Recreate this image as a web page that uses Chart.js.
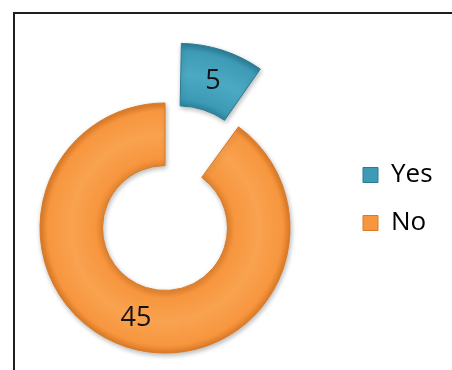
<!DOCTYPE html>
<html>
<head>
<meta charset="utf-8">
<script src="https://cdn.jsdelivr.net/npm/chart.js@4.4.1/dist/chart.umd.min.js"></script>
<style>
  html, body { margin: 0; padding: 0; background: #fff; overflow: hidden; }
  #wrap { position: relative; width: 452px; height: 370px; overflow: hidden; }
  #frame { position: absolute; left: 13px; top: 12px; width: 470px; height: 390px;
           border: 2px solid #1e1e1e; box-sizing: border-box; }
  #c { position: absolute; left: -11px; top: 0; }
</style>
</head>
<body>
<div id="wrap">
  <div id="frame"></div>
  <canvas id="c" width="463" height="370"></canvas>
</div>
<script>
// Survey answers
const categories = ['Yes', 'No'];
const responses = [5, 45];
// How far each slice is pulled out of the ring (Chart.js arc offset)
const explode = [175, 0];

const fills = ['#3E9BB6', '#F7963F'];
const edges = ['#2A7A92', '#D97A28'];
const ramps = [
  ['#2F86A0', '#3E9BB6', '#4CA9C3', '#3E9BB6', '#2C7F98'],
  ['#E5852F', '#F7963F', '#F9A24F', '#F7963F', '#DE7C27']
];

const FONT = '"Open Sans", "DejaVu Sans", sans-serif';

// Radial shading across the ring width for a soft bevel look
function ringFill(sc) {
  const i = sc.dataIndex;
  const chart = sc.chart;
  const area = chart.chartArea;
  const ctrl = chart.getDatasetMeta(0).controller;
  if (!area || !ctrl || !ctrl.outerRadius) return fills[i];
  const cx = (area.left + area.right) / 2;
  const cy = (area.top + area.bottom) / 2;
  const total = responses.reduce((a, b) => a + b, 0);
  const circ = responses[i] / total * Math.PI * 2;
  const off = explode[i] / 4;
  const ro = off * (1 - Math.sin(Math.min(Math.PI, circ)));
  const g = chart.ctx.createRadialGradient(cx, cy, ctrl.innerRadius + ro, cx, cy, ctrl.outerRadius + ro);
  const stops = [0, 0.12, 0.5, 0.88, 1];
  stops.forEach((s, k) => g.addColorStop(s, ramps[i][k]));
  return g;
}

// Soft drop shadow under the slices
const sliceShadow = {
  id: 'sliceShadow',
  beforeDatasetsDraw(chart) {
    const ctx = chart.ctx;
    ctx.save();
    ctx.shadowColor = 'rgba(0,0,0,0.28)';
    ctx.shadowBlur = 5;
    ctx.shadowOffsetX = 1;
    ctx.shadowOffsetY = 2;
  },
  afterDatasetsDraw(chart) {
    chart.ctx.restore();
  }
};

// Value labels at the middle of each slice (following its offset)
const sliceLabels = {
  id: 'sliceLabels',
  afterDatasetsDraw(chart) {
    const meta = chart.getDatasetMeta(0);
    const ctx = chart.ctx;
    ctx.save();
    ctx.font = '27px ' + FONT;
    ctx.fillStyle = '#141414';
    ctx.textAlign = 'center';
    ctx.textBaseline = 'middle';
    meta.data.forEach((arc, i) => {
      const p = arc.getProps(['x', 'y', 'startAngle', 'endAngle', 'innerRadius', 'outerRadius', 'circumference'], true);
      const off = (arc.options.offset || 0) / 4;
      const fix = 1 - Math.sin(Math.min(Math.PI, p.circumference));
      const mid = (p.startAngle + p.endAngle) / 2;
      const r = (p.innerRadius + p.outerRadius) / 2 + off * fix + off;
      ctx.fillText(String(chart.data.datasets[0].data[i]),
        p.x + Math.cos(mid) * r, p.y + Math.sin(mid) * r + 1);
    });
    ctx.restore();
  }
};

new Chart(document.getElementById('c'), {
  type: 'doughnut',
  data: {
    labels: categories,
    datasets: [{
      data: responses,
      backgroundColor: ringFill,
      borderColor: edges,
      borderWidth: 1,
      offset: explode,
      clip: false
    }]
  },
  options: {
    responsive: false,
    maintainAspectRatio: false,
    animation: false,
    radius: 125,
    cutout: '50%',
    layout: { padding: { left: 0, right: 16, top: 140, bottom: 54 } },
    plugins: {
      tooltip: { enabled: false },
      legend: {
        position: 'right',
        align: 'start',
        maxWidth: 95,
        labels: {
          boxWidth: 15,
          boxHeight: 15,
          padding: 22,
          color: '#000',
          font: { family: FONT, size: 26 },
          generateLabels: (chart) => chart.data.labels.map((t, i) => ({
            text: t,
            fillStyle: fills[i],
            strokeStyle: edges[i],
            lineWidth: 1,
            hidden: false,
            index: i
          }))
        }
      }
    }
  },
  plugins: [sliceShadow, sliceLabels]
});
</script>
</body>
</html>
